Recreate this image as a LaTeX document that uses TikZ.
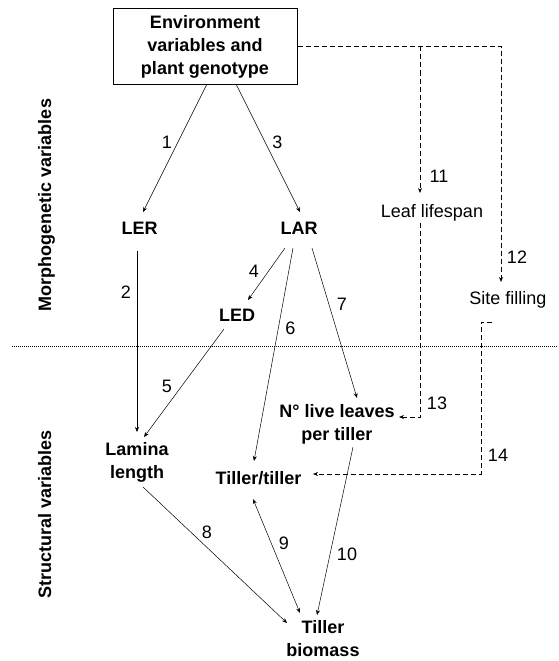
\documentclass[tikz,border=0pt]{standalone}
\usepackage{fontspec}
\setmainfont{Liberation Sans}
\usetikzlibrary{positioning, arrows.meta}

\begin{document}
\begin{tikzpicture}[x=1pt, y=-1pt,
    font=\fontsize{18}{23}\selectfont,
    srcbox/.style={draw=black, line width=1pt, minimum width=184pt, minimum height=75pt, align=center, font=\fontsize{18}{23}\selectfont\bfseries},
    var/.style={align=center, inner sep=0pt, font=\fontsize{18}{23}\selectfont\bfseries},
    rate/.style={align=center, inner sep=0pt},
    num/.style={inner sep=0pt},
    sidetitle/.style={rotate=90, anchor=base, inner sep=0pt, font=\fontsize{18}{23}\selectfont\bfseries},
    link/.style={line width=0.5pt, -{Stealth[length=5pt, width=4pt]}},
    twoway/.style={line width=0.5pt, {Stealth[length=5pt, width=4pt]}-{Stealth[length=5pt, width=4pt]}},
    dlink/.style={line width=0.7pt, dash pattern=on 5pt off 3pt, -{Stealth[length=5pt, width=4pt]}},
    sepline/.style={line width=0.7pt, dash pattern=on 0.7pt off 1.3pt}
  ]
  \useasboundingbox (0,0) rectangle (558,661);

  % -- 1. SOURCE BOX --
  \node[srcbox] (env) at (205,46.5) {Environment\\variables and\\plant genotype};

  % -- 2. MORPHOGENETIC VARIABLES --
  \node[var] (ler) at (139.5,228.5) {LER};
  \node[var] (lar) at (299,228.5) {LAR};
  \node[var] (led) at (237,315) {LED};
  \node[rate] (life) at (432,212.5) {Leaf lifespan};
  \node[rate] (site) at (508,300) {Site filling};

  % -- 3. STRUCTURAL VARIABLES --
  \node[var] (lam) at (137,462) {Lamina\\length};
  \node[var] (nlive) at (337,424) {N° live leaves\\per tiller};
  \node[var] (tt) at (258.5,478.5) {Tiller/tiller};
  \node[var] (bio) at (323,639) {Tiller\\biomass};

  % side titles and separator
  \node[sidetitle] (morph) at (51,205) {Morphogenetic variables};
  \node[sidetitle] (struct) at (51,514) {Structural variables};
  \draw[sepline] (12,346) -- (558,346);

  % -- 4. DIRECT EFFECTS (solid) --
  \draw[link] ([shift={(2,37.5)}]env.center) -- ([shift={(3.5,-16.5)}]ler.center);
  \draw[link] ([shift={(31,37.5)}]env.center) -- ([shift={(1,-16.5)}]lar.center);
  \draw[link] ([shift={(-2.5,22.5)}]ler.center) -- ([shift={(0,-30)}]lam.center);
  \draw[link] ([shift={(-14,19.5)}]lar.center) -- ([shift={(11,-15)}]led.center);
  \draw[link] ([shift={(-13,14)}]led.center) -- ([shift={(7,-25)}]lam.center);
  \draw[link] ([shift={(-6,19.5)}]lar.center) -- ([shift={(-4.5,-17.5)}]tt.center);
  \draw[link] ([shift={(13,19.5)}]lar.center) -- ([shift={(20,-26)}]nlive.center);
  \draw[link] ([shift={(6,25)}]lam.center) -- ([shift={(-36,-16)}]bio.center);
  \draw[twoway] ([shift={(-5.5,20.5)}]tt.center) -- ([shift={(-23,-26)}]bio.center);
  \draw[link] ([shift={(16,23)}]nlive.center) -- ([shift={(-6,-24)}]bio.center);

  % -- 5. OTHER EFFECTS (dashed) --
  \coordinate (fork) at (420,46.5);
  \draw[dlink] (env.east) -| ([shift={(-7,-18)}]site.center);
  \draw[dlink] (fork) -- ([shift={(-12,-19.5)}]life.center);
  \draw[dlink] ([shift={(-12,10)}]life.center) |- ([shift={(62,-7)}]nlive.center);
  \draw[dlink] ([shift={(-16,22)}]site.center) -- ([shift={(-27,22)}]site.center)
    |- ([shift={(54.5,-4.5)}]tt.center);

  % path numbers
  \node[num] (n1) at (167,142) {1};
  \node[num] (n2) at (126,292) {2};
  \node[num] (n3) at (277.5,142) {3};
  \node[num] (n4) at (254,271) {4};
  \node[num] (n5) at (167,386) {5};
  \node[num] (n6) at (290.5,328) {6};
  \node[num] (n7) at (342,304) {7};
  \node[num] (n8) at (207,532) {8};
  \node[num] (n9) at (284,543) {9};
  \node[num] (n10) at (347,554.5) {10};
  \node[num] (n11) at (439,176) {11};
  \node[num] (n12) at (517,257) {12};
  \node[num] (n13) at (437,403) {13};
  \node[num] (n14) at (498,455) {14};
\end{tikzpicture}
\end{document}
